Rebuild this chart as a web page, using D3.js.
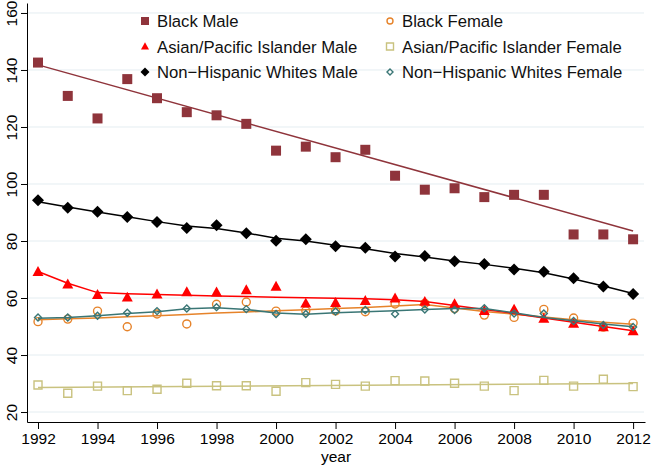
<!DOCTYPE html>
<html>
<head>
<meta charset="utf-8">
<script src="https://cdn.jsdelivr.net/npm/d3@7"></script>
<style>
  body { margin: 0; background: #fff; }
  svg { display: block; font-family: "Liberation Sans", Arial, sans-serif; }
</style>
</head>
<body>
<div id="chart"></div>
<script>
var years = d3.range(1992, 2013);
var yTicks = [20, 40, 60, 80, 100, 120, 140, 160];
var xTicks = [1992, 1994, 1996, 1998, 2000, 2002, 2004, 2006, 2008, 2010, 2012];

// observed rates
var blackMale = [142.6, 130.9, 123.0, 136.8, 130.1, 125.2, 124.1, 121.1, 111.7, 113.1, 109.4, 112.0, 102.9, 98.0, 98.5, 95.4, 96.2, 96.2, 82.3, 82.3, 80.6];
var blackFemale = [51.7, 52.6, 55.4, 49.9, 54.4, 50.9, 57.8, 58.6, 55.4, 55.5, 55.5, 55.2, 57.9, 58.1, 56.3, 54.0, 53.2, 56.0, 53.0, 49.8, 51.2];
var asianMale = [69.2, 64.8, 61.1, 60.2, 61.3, 62.1, 62.0, 62.8, 64.0, 58.1, 58.3, 59.0, 59.9, 58.7, 57.9, 55.5, 56.0, 52.8, 51.0, 49.8, 48.4];
var asianFemale = [29.5, 26.6, 29.1, 27.5, 28.0, 30.1, 29.2, 29.2, 27.3, 30.3, 29.7, 29.1, 31.0, 30.9, 30.1, 29.1, 27.5, 31.1, 29.1, 31.5, 28.9];
var whiteMale = [94.3, 91.7, 90.3, 88.4, 86.7, 84.6, 85.5, 82.7, 80.1, 80.6, 78.2, 77.6, 74.6, 74.7, 72.9, 71.9, 70.0, 69.2, 66.9, 64.0, 61.4];
var whiteFemale = [53.2, 53.2, 53.8, 54.8, 55.4, 56.3, 56.8, 56.1, 54.4, 54.4, 55.3, 55.8, 54.4, 56.0, 55.8, 56.4, 54.6, 54.6, 51.9, 50.5, 49.8];

// fitted lines
var blackMaleFitYears = [1992, 2012];
var blackMaleFit = [141.8, 83.5];
var asianFemaleFitYears = [1992, 2012];
var asianFemaleFit = [28.6, 30.0];
var blackFemaleFit = [52.4, 52.7, 53.0, 53.4, 53.8, 54.2, 54.7, 55.1, 55.5, 55.9, 56.3, 56.7, 57.2, 57.7, 56.5, 55.3, 54.3, 53.3, 52.4, 51.5, 50.8];
var asianMaleFit = [69.3, 65.2, 61.9, 61.5, 61.2, 61.0, 60.7, 60.5, 60.3, 60.1, 59.9, 59.7, 59.4, 58.8, 57.4, 56.0, 54.6, 53.0, 51.5, 50.0, 48.5];
var whiteMaleFit = [93.8, 91.9, 90.2, 88.5, 86.8, 85.3, 84.4, 82.8, 81.0, 80.0, 78.5, 77.3, 75.6, 74.4, 73.0, 71.8, 70.4, 68.9, 66.7, 64.2, 61.6];
var whiteFemaleFit = [52.9, 53.2, 53.8, 54.6, 55.2, 56.2, 56.6, 56.0, 54.7, 54.3, 54.8, 55.2, 55.5, 56.0, 56.3, 56.3, 54.8, 53.2, 52.0, 50.9, 49.9];

var series = [
  {name: "Black Male", values: blackMale, fitX: blackMaleFitYears, fit: blackMaleFit, color: "#8f343b", shape: "square", filled: true, size: 10, lsize: 8},
  {name: "Black Female", values: blackFemale, fitX: years, fit: blackFemaleFit, color: "#e6832a", shape: "circle", filled: false, size: 9, lsize: 7},
  {name: "Asian/Pacific Islander Male", values: asianMale, fitX: years, fit: asianMaleFit, color: "#ff0000", shape: "triangle", filled: true, size: 11, lsize: 8},
  {name: "Asian/Pacific Islander Female", values: asianFemale, fitX: asianFemaleFitYears, fit: asianFemaleFit, color: "#c9c27f", shape: "square", filled: false, size: 8, lsize: 7},
  {name: "Non\u2212Hispanic Whites Male", values: whiteMale, fitX: years, fit: whiteMaleFit, color: "#000000", shape: "diamond", filled: true, size: 12, lsize: 9},
  {name: "Non\u2212Hispanic Whites Female", values: whiteFemale, fitX: years, fit: whiteFemaleFit, color: "#3a7675", shape: "diamond", filled: false, size: 7, lsize: 6}
];

var width = 651, height = 466;
var svg = d3.select("#chart").append("svg")
  .attr("width", width)
  .attr("height", height);

var x = d3.scaleLinear().domain([1991.63, 2012.4]).range([27, 645]);
var y = d3.scaleLinear().domain([16.5, 163.5]).range([422, 3]);

// gridlines
svg.append("g")
  .selectAll("line")
  .data(yTicks)
  .enter()
  .append("line")
  .attr("x1", 27)
  .attr("x2", 644)
  .attr("y1", d => y(d))
  .attr("y2", d => y(d))
  .attr("stroke", "#e4edf1")
  .attr("stroke-width", 1);

function markerPath(shape, s) {
  var h = s / 2;
  if (shape === "square") return `M${-h},${-h}H${h}V${h}H${-h}Z`;
  if (shape === "diamond") return `M0,${-h}L${h},0L0,${h}L${-h},0Z`;
  if (shape === "triangle") return `M0,${-h * 1.05}L${h},${h * 0.75}L${-h},${h * 0.75}Z`;
  return null;
}

function drawMarker(g, d, s) {
  var m;
  if (d.shape === "circle") {
    m = g.append("circle").attr("r", s / 2 - 0.5);
  } else {
    m = g.append("path").attr("d", markerPath(d.shape, s));
  }
  if (d.filled) {
    m.attr("fill", d.color);
  } else {
    m.attr("fill", "none").attr("stroke", d.color).attr("stroke-width", 1.4);
  }
}

var line = d3.line().x(d => x(d[0])).y(d => y(d[1]));

series.forEach(function(s) {
  var g = svg.append("g");
  g.append("path")
    .datum(d3.zip(s.fitX, s.fit))
    .attr("d", line)
    .attr("fill", "none")
    .attr("stroke", s.color)
    .attr("stroke-width", 1.5);
  g.selectAll(".pt")
    .data(d3.zip(years, s.values))
    .enter()
    .append("g")
    .attr("class", "pt")
    .attr("transform", d => `translate(${x(d[0])},${y(d[1])})`)
    .each(function() { drawMarker(d3.select(this), s, s.size); });
});

// axes
var yAxis = svg.append("g")
  .attr("transform", "translate(27,0)")
  .call(d3.axisLeft(y).tickValues(yTicks).tickSize(6).tickSizeOuter(0));
// rotated labels, relative to each tick group
yAxis.selectAll("text")
  .attr("transform", "rotate(-90)")
  .attr("x", 0)
  .attr("y", -10)
  .attr("dy", 0)
  .attr("text-anchor", "middle");

var xAxis = svg.append("g")
  .attr("transform", "translate(0,422)")
  .call(d3.axisBottom(x).tickValues(xTicks).tickFormat(d3.format("d")).tickSize(7).tickSizeOuter(0).tickPadding(4));

svg.selectAll(".tick text").attr("font-size", "15.5px").attr("fill", "#000").attr("font-family", "Liberation Sans, Arial, sans-serif");
svg.selectAll(".domain, .tick line").attr("stroke", "#000").attr("stroke-width", 1);

svg.append("text")
  .attr("x", 336)
  .attr("y", 462)
  .attr("text-anchor", "middle")
  .attr("font-size", "15.5px")
  .text("year");

// legend, two columns filled row-wise
var legend = svg.append("g");
var legendItems = legend.selectAll(".legend-item")
  .data(series)
  .enter()
  .append("g")
  .attr("class", "legend-item")
  .attr("transform", (d, i) => `translate(${i % 2 === 0 ? 145 : 390},${21 + Math.floor(i / 2) * 25.5})`);

legendItems.each(function(d) { drawMarker(d3.select(this), d, d.lsize); });

legendItems.append("text")
  .attr("x", 12)
  .attr("y", 6)
  .attr("font-size", "16.7px")
  .attr("fill", "#111")
  .text(d => d.name);
</script>
</body>
</html>
